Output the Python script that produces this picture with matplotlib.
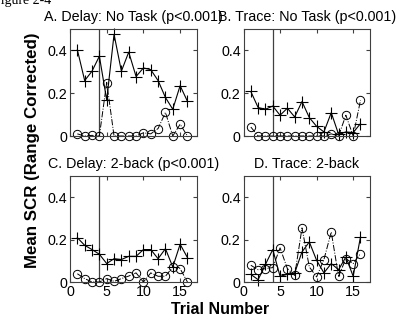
import matplotlib
matplotlib.use("Agg")
from matplotlib import pyplot as plt

plt.rcParams['font.family'] = ['Liberation Sans', 'DejaVu Sans']

trials = list(range(1, 17))

# crosses (solid line) and circles (dash-dot line) for each panel
delay_notask_plus = [0.403, 0.259, 0.303, 0.373, 0.168, 0.475, 0.303, 0.392,
                     0.278, 0.318, 0.310, 0.259, 0.180, 0.125, 0.235, 0.162]
delay_notask_circ = [0.010, 0.0, 0.003, 0.0, 0.250, 0.0, 0.0, 0.0,
                     0.0, 0.015, 0.010, 0.035, 0.110, 0.0, 0.055, 0.0]

trace_notask_plus = [0.208, 0.133, 0.125, 0.140, 0.097, 0.130, 0.089, 0.161,
                     0.086, 0.045, 0.019, 0.109, 0.008, 0.019, 0.016, 0.058]
trace_notask_circ = [0.042, 0.0, 0.0, 0.0, 0.0, 0.0, 0.0, 0.0,
                     0.0, 0.0, 0.0, 0.010, 0.0, 0.097, 0.0, 0.167]

delay_2back_plus = [0.209, 0.173, 0.153, 0.131, 0.087, 0.110, 0.106, 0.121,
                    0.121, 0.153, 0.153, 0.110, 0.157, 0.071, 0.178, 0.115]
delay_2back_circ = [0.039, 0.016, 0.0, 0.0, 0.016, 0.003, 0.016, 0.028,
                    0.043, 0.0, 0.043, 0.027, 0.027, 0.071, 0.063, 0.0]

trace_2back_plus = [0.036, 0.011, 0.083, 0.153, 0.027, 0.036, 0.043, 0.142,
                    0.189, 0.102, 0.043, 0.087, 0.058, 0.118, 0.027, 0.213]
trace_2back_circ = [0.079, 0.058, 0.063, 0.068, 0.161, 0.063, 0.031, 0.255,
                    0.071, 0.024, 0.106, 0.236, 0.027, 0.110, 0.087, 0.134]

titles = ["A. Delay: No Task (p<0.001)", "B. Trace: No Task (p<0.001)",
          "C. Delay: 2-back (p<0.001)", "D. Trace: 2-back"]
panels = [(delay_notask_plus, delay_notask_circ),
          (trace_notask_plus, trace_notask_circ),
          (delay_2back_plus, delay_2back_circ),
          (trace_2back_plus, trace_2back_circ)]

W, H = 408, 318
fig = plt.figure(figsize=(W / 100, H / 100), dpi=100)

# axes boxes in pixels: left, top, right, bottom
boxes = [(70, 29, 197, 136), (243.5, 29, 370, 136),
         (70, 176, 197, 282), (243.5, 176, 370, 282)]

for i, (box, (plus, circ), title) in enumerate(zip(boxes, panels, titles)):
    l, t, r, b = box
    ax = fig.add_axes([l / W, 1 - b / H, (r - l) / W, (b - t) / H])
    ax.axvline(4, color='#404040', lw=0.9, zorder=1)
    ax.plot(trials, circ, color='black', ls='-.', lw=0.7, marker='o',
            ms=6, mfc='none', mec='black', mew=0.7, clip_on=False)
    ax.plot(trials, plus, color='black', ls='-', lw=0.8, marker='+',
            ms=9, mew=0.8, clip_on=False)
    ax.set_xlim(0, 17.3)
    ax.set_ylim(0, 0.5)
    ax.set_yticks([0, 0.2, 0.4])
    ax.set_yticklabels(["0", "0.2", "0.4"])
    ax.set_xticks([0, 5, 10, 15])
    if i < 2:
        ax.set_xticklabels([])
    ax.tick_params(direction='in', length=3, top=True, right=True,
                   labelsize=10.3, pad=2, color='#404040')
    for sp in ax.spines.values():
        sp.set_color('#404040')
        sp.set_linewidth(0.8)
    ax.set_title(title, fontsize=10.3, pad=6)

fig.text(33 / W, 1 - 150 / H, "Mean SCR (Range Corrected)", rotation=90,
         ha='center', va='center', fontsize=12.2, fontweight='bold')
fig.text(220 / W, 1 - 310 / H, "Trial Number", ha='center', va='center',
         fontsize=11.5, fontweight='bold')
fig.text(-7 / W, 1 - 4 / H, "Figure 2-4", ha='left', va='baseline',
         fontsize=10, family='Liberation Serif')

fig.savefig("out.png", dpi=100)
